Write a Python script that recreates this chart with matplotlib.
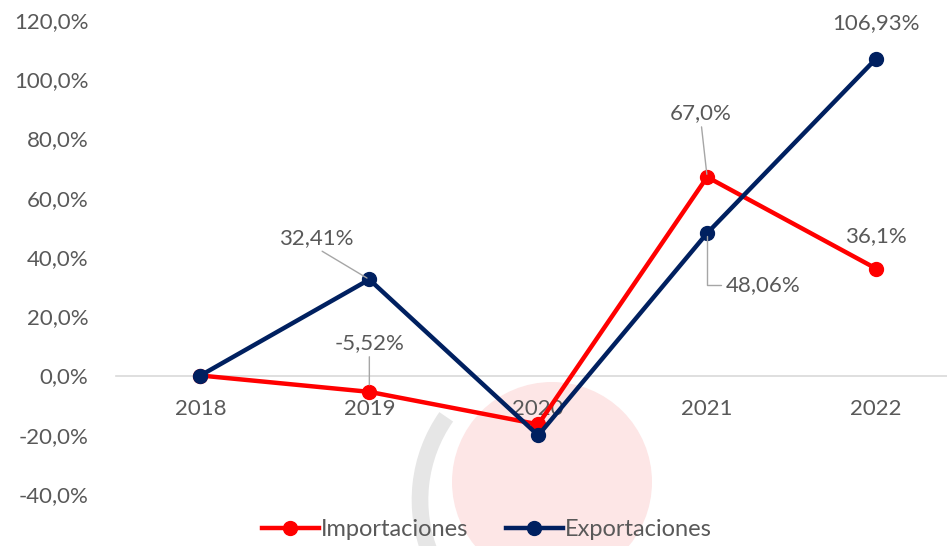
import matplotlib.pyplot as plt
from matplotlib.patches import Circle, Arc
from matplotlib.ticker import FuncFormatter

years = ["2018", "2019", "2020", "2021", "2022"]
importaciones = [0.0, -5.52, -16.5, 67.0, 36.1]
exportaciones = [0.0, 32.41, -20.2, 48.06, 106.93]

imp_labels = {1: "-5,52%", 3: "67,0%", 4: "36,1%"}
exp_labels = {1: "32,41%", 3: "48,06%", 4: "106,93%"}

RED = "#FF0000"
NAVY = "#002060"
GREY_TXT = "#595959"
LEADER = "#a6a6a6"

plt.rcParams['font.family'] = ['Lato', 'DejaVu Sans']

fig = plt.figure(figsize=(9.47, 5.46), dpi=100)
fig.patch.set_facecolor("white")

# faint watermark logo behind the chart
bg = fig.add_axes([0, 0, 1, 1], zorder=-1)
bg.set_xlim(0, 947)
bg.set_ylim(546, 0)
bg.axis("off")
bg.add_patch(Circle((552, 482), 100, color="#fde6e6", lw=0))
bg.add_patch(Arc((565, 500), 290, 290, theta1=100, theta2=215, color="#e6e6e6", lw=12))

ax = fig.add_axes([116 / 947, 52 / 546, (947 - 116) / 947, 474 / 546])
ax.patch.set_alpha(0)
x = list(range(len(years)))

ax.plot(x, importaciones, color=RED, lw=3.2, marker="o", ms=10, label="Importaciones",
        solid_joinstyle="round", zorder=3)
ax.plot(x, exportaciones, color=NAVY, lw=3.2, marker="o", ms=10, label="Exportaciones",
        solid_joinstyle="round", zorder=4)

ax.set_xlim(-0.5, (947 - 200) / 169)
ax.set_ylim(-40, 120)
ax.set_yticks(range(-40, 121, 20))
ax.yaxis.set_major_formatter(FuncFormatter(lambda v, p: f"{v:.1f}%".replace(".", ",")))
ax.set_xticks(x)
ax.set_xticklabels(years)

for s in ["top", "right", "left"]:
    ax.spines[s].set_visible(False)
ax.spines["bottom"].set_position(("data", 0))
ax.spines["bottom"].set_color("#d9d9d9")
ax.spines["bottom"].set_linewidth(1.2)
ax.tick_params(axis="both", length=0, labelsize=16, labelcolor=GREY_TXT)
ax.tick_params(axis="x", pad=17)
ax.tick_params(axis="y", pad=20)

txt = dict(fontsize=16, color=GREY_TXT, ha="center", va="center", zorder=5)
arrow = dict(arrowstyle="-", color=LEADER, lw=1, shrinkA=1, shrinkB=2)

# data labels (text positions in data units)
ax.annotate(exp_labels[1], xy=(1, exportaciones[1]), xytext=(0.686, 46.5),
            arrowprops=dict(arrow, relpos=(0.5, 0)), **txt)
ax.annotate(imp_labels[1], xy=(1, importaciones[1]), xytext=(1.0, 11.1),
            arrowprops=dict(arrow, relpos=(0.5, 0), shrinkB=5), **txt)
ax.annotate(imp_labels[3], xy=(3, importaciones[3]), xytext=(2.964, 88.7),
            arrowprops=dict(arrow, relpos=(0.5, 0)), **txt)
ax.annotate(exp_labels[3], xy=(3, exportaciones[3]), xytext=(3.33, 30.4),
            arrowprops=dict(arrow, relpos=(0, 0.5),
                            connectionstyle="angle,angleA=180,angleB=90,rad=0"), **txt)
ax.annotate(exp_labels[4], xy=(4, exportaciones[4]), xytext=(4.0, 119.1), **txt)
ax.annotate(imp_labels[4], xy=(4, importaciones[4]), xytext=(4.0, 47.2), **txt)

leg = fig.legend(loc="center", bbox_to_anchor=(487 / 947, 1 - 530 / 546), ncol=2,
                 frameon=False, fontsize=17, handlelength=2.4, handletextpad=0.1,
                 columnspacing=1.6, labelcolor=GREY_TXT)

fig.savefig("out.png", dpi=100, facecolor="white")
